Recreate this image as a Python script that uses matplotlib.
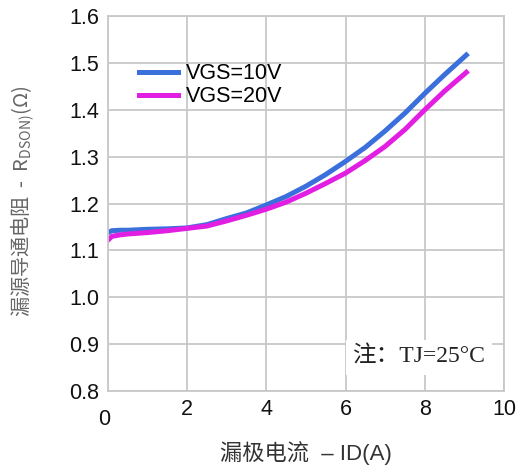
import matplotlib
matplotlib.use('Agg')
import matplotlib.pyplot as plt
from matplotlib.transforms import ScaledTranslation

plt.rcParams['font.family'] = ['Liberation Sans', 'Noto Sans CJK SC']

# Data
id_a = [0, 0.1, 0.3, 0.5, 1, 1.5, 2, 2.5, 3, 3.5, 4, 4.5, 5, 5.5, 6, 6.5, 7, 7.5, 8, 8.5, 9.05]
r_10v = [1.138, 1.142, 1.143, 1.143, 1.145, 1.146, 1.148, 1.155, 1.168, 1.180, 1.197, 1.215,
         1.237, 1.262, 1.290, 1.320, 1.355, 1.393, 1.435, 1.475, 1.517]
r_20v = [1.122, 1.130, 1.133, 1.135, 1.138, 1.142, 1.147, 1.152, 1.163, 1.175, 1.188, 1.203,
         1.222, 1.243, 1.265, 1.292, 1.322, 1.358, 1.400, 1.440, 1.480]
x_ticks = [0, 2, 4, 6, 8, 10]
y_ticks = [0.8, 0.9, 1.0, 1.1, 1.2, 1.3, 1.4, 1.5, 1.6]

fig = plt.figure(figsize=(5.19, 4.75), dpi=100)
ax = fig.add_axes([0.208, 0.177, 0.763, 0.789])

ax.plot(id_a, r_10v, color='#3b6fdc', linewidth=3.6, label='VGS=10V')
ax.plot(id_a, r_20v, color='#e21ee2', linewidth=3.6, label='VGS=20V')

ax.set_xlim(0, 10)
ax.set_ylim(0.8, 1.6)
ax.set_xticks(x_ticks)
ax.set_yticks(y_ticks)
ax.set_yticklabels(['%.1f' % v for v in y_ticks])
ax.tick_params(length=0, labelsize=15.5, pad=6, colors='#111111')
ax.grid(True, color='#c8c8c8', linewidth=1.3)
for s in ax.spines.values():
    s.set_color('#c8c8c8')
    s.set_linewidth(1.3)

# the "0" sits a bit lower in the original
lbl0 = ax.get_xticklabels()[0]
lbl0.set_transform(lbl0.get_transform() + ScaledTranslation(-0.04, -0.1, fig.dpi_scale_trans))

ax.legend(loc='upper left', bbox_to_anchor=(0.04, 0.915), frameon=False, fontsize=15.5,
          handlelength=1.8, handletextpad=0.4, labelspacing=0.1, borderpad=0.2)

ax.text(0.785, 0.09, '注：TJ=25°C', transform=ax.transAxes, ha='center', va='center',
        fontsize=17, family=['Liberation Serif', 'Noto Sans CJK SC'], color='#222222',
        bbox=dict(facecolor='white', edgecolor='none', pad=5))

ax.set_xlabel('漏极电流  – ID(A)', fontsize=16, color='#333333', labelpad=8)
ax.set_ylabel('漏源导通电阻  -  R$_{\\mathregular{DSON)}}$(Ω)', fontsize=14.5, color='#666666',
              family='Noto Sans CJK SC')
ax.yaxis.set_label_coords(-0.18, 0.507)

plt.savefig('out.png', dpi=100)
